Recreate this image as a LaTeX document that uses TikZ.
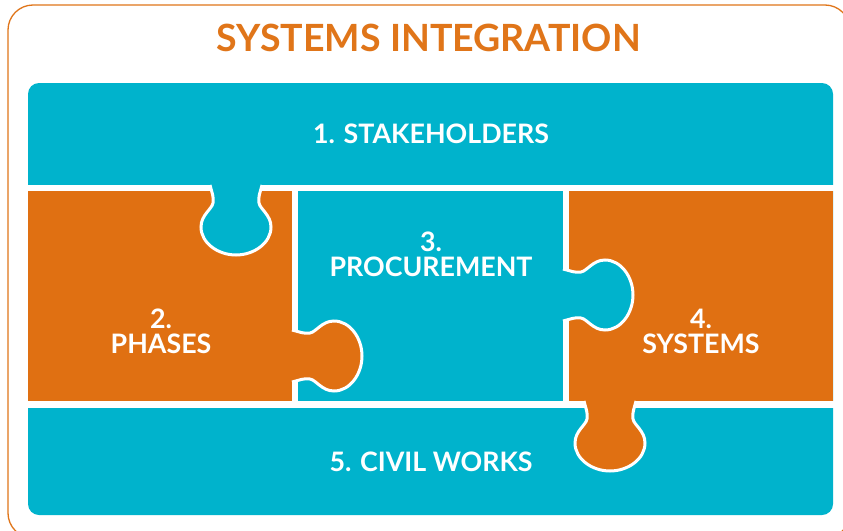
\documentclass[tikz,border=0pt]{standalone}
\usepackage{fontspec}
\setmainfont{Lato}
\definecolor{pcyan}{RGB}{0,179,204}
\definecolor{porange}{RGB}{224,112,18}
\definecolor{ptitle}{RGB}{224,117,25}
\tikzset{
  lbl/.style={text=white, font=\bfseries\fontsize{26.8}{25}\selectfont, align=center, inner sep=0pt},
  gap/.style={fill=white},
  knobline/.style={draw=white, line width=3pt},
}
\def\knobshape{(-26,0) .. controls (-24,8) and (-22,12) .. (-23,18) .. controls (-24,24) and (-35,30) .. (-35,42) .. controls (-35,58) and (-18,70) .. (0,70) .. controls (18,70) and (35,58) .. (35,42) .. controls (35,30) and (24,24) .. (23,18) .. controls (22,12) and (24,8) .. (26,0)}
\newcommand\puzknob[3]{%
  \begin{scope}[shift={#1}, rotate=#2]
    \fill[#3] (-26,-3) -- \knobshape -- (26,-3) -- cycle;
    \draw[knobline] \knobshape;
  \end{scope}}
\begin{document}
\begin{tikzpicture}[x=1pt, y=-1pt]
\useasboundingbox (0,0) rectangle (843,530);
\fill[white] (0,0) rectangle (843,530);
% outer frame
\draw[ptitle, line width=1.3pt, rounded corners=25pt] (8,5) rectangle (850,538);
% title
\node[text=ptitle, font=\bfseries\fontsize{37.5}{37.5}\selectfont, inner sep=0pt] (title) at (429,38) {SYSTEMS INTEGRATION};
% board
\fill[pcyan, rounded corners=11pt] (28,83) rectangle (833,515);
% gaps
\fill[gap] (20,185) rectangle (840,191);
\fill[gap] (20,401) rectangle (840,408);
\fill[gap] (292,191) rectangle (298,401);
\fill[gap] (563,191) rectangle (569,401);
% orange pieces
\fill[porange] (28,191) rectangle (292,401);
\fill[porange] (569,191) rectangle (833,401);
% knobs
\puzknob{(236,185)}{0}{pcyan}
\puzknob{(292,356)}{90}{porange}
\puzknob{(563,295)}{90}{pcyan}
\puzknob{(610,401)}{0}{porange}
% labels
\node[lbl] (stake) at (431,134) {1. STAKEHOLDERS};
\node[lbl] (phases) at (161,331) {2.\\PHASES};
\node[lbl] (proc) at (431,254) {3.\\PROCUREMENT};
\node[lbl] (sys) at (701,331) {4.\\SYSTEMS};
\node[lbl] (civil) at (431,462) {5. CIVIL WORKS};
\end{tikzpicture}
\end{document}
